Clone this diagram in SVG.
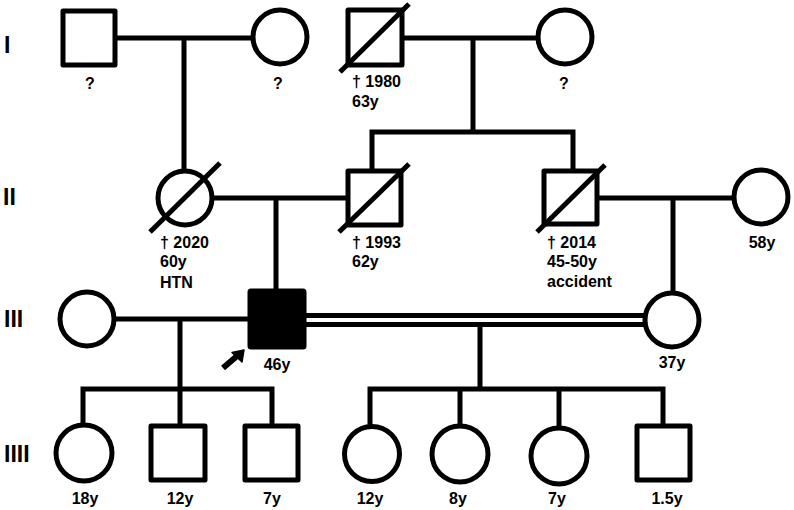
<svg xmlns="http://www.w3.org/2000/svg" width="794" height="510" viewBox="0 0 794 510">
<style>
.s{fill:#fff;stroke:#000;stroke-width:5;stroke-linejoin:round}
.f{fill:#000;stroke:#000;stroke-width:3;stroke-linejoin:round}
.d{stroke:#000;stroke-width:5;fill:none}
.c path,.c line{stroke:#000;stroke-width:5;fill:none}
.dbl{stroke:#000;stroke-width:4}
.t{font-family:"Liberation Sans",Arial,sans-serif;font-weight:bold;font-size:16px;fill:#000}
.m{text-anchor:middle}
.g{font-family:"Liberation Sans",Arial,sans-serif;font-weight:bold;font-size:23px;fill:#000}
</style>
<rect width="794" height="510" fill="#fff"/>
<g id="gen-labels">
<text class="g" x="4" y="53">I</text>
<text class="g" x="3" y="205">II</text>
<text class="g" x="4" y="327">III</text>
<text class="g" x="4" y="462">IIII</text>
</g>
<g class="c" id="connectors">
<line x1="116" y1="38" x2="253" y2="38"/>
<line x1="184" y1="38" x2="184" y2="171"/>
<line x1="402" y1="38" x2="538" y2="38"/>
<line x1="473" y1="38" x2="473" y2="132"/>
<path d="M372,171 V132 H573 V171"/>
<line x1="212" y1="198" x2="348" y2="198"/>
<line x1="276" y1="198" x2="276" y2="291"/>
<line x1="598" y1="198" x2="734" y2="198"/>
<line x1="673" y1="198" x2="673" y2="293"/>
<line x1="114" y1="319" x2="249" y2="319"/>
<line x1="180" y1="319" x2="180" y2="426"/>
<path d="M83,426 V389 H272 V426"/>
<line class="dbl" x1="305" y1="315.5" x2="645" y2="315.5"/>
<line class="dbl" x1="305" y1="324.5" x2="645" y2="324.5"/>
<line x1="480" y1="324" x2="480" y2="389"/>
<path d="M370,427 V389 H663 V426"/>
<line x1="460" y1="389" x2="460" y2="427"/>
<line x1="559" y1="389" x2="559" y2="429"/>
</g>
<g id="I-1"><rect class="s" x="63" y="11" width="52" height="54"/><text class="t m" x="90" y="89">?</text></g>
<g id="I-2"><circle class="s" cx="280" cy="37" r="27"/><text class="t m" x="278" y="89">?</text></g>
<g id="I-3"><rect class="s" x="348" y="10" width="54" height="55"/><line class="d" x1="340" y1="72" x2="409" y2="4"/><text class="t" x="352" y="87">† 1980</text><text class="t" x="352" y="107">63y</text></g>
<g id="I-4"><circle class="s" cx="565" cy="37" r="27"/><text class="t m" x="564" y="89">?</text></g>
<g id="II-1"><circle class="s" cx="185" cy="198" r="27"/><line class="d" x1="150" y1="232" x2="220" y2="163"/><text class="t" x="160" y="248">† 2020</text><text class="t" x="160" y="267">60y</text><text class="t" x="160" y="288">HTN</text></g>
<g id="II-2"><rect class="s" x="348" y="171" width="53" height="54"/><line class="d" x1="339" y1="232" x2="409" y2="164"/><text class="t" x="352" y="248">† 1993</text><text class="t" x="352" y="267">62y</text></g>
<g id="II-3"><rect class="s" x="544" y="171" width="53" height="53"/><line class="d" x1="537" y1="232" x2="605" y2="165"/><text class="t" x="547" y="248">† 2014</text><text class="t" x="547" y="267">45-50y</text><text class="t" x="547" y="287">accident</text></g>
<g id="II-4"><circle class="s" cx="761" cy="197" r="27"/><text class="t m" x="762" y="248">58y</text></g>
<g id="III-1"><circle class="s" cx="87" cy="319" r="27"/></g>
<g id="III-2"><rect class="f" x="249" y="290" width="56" height="58" rx="2"/><text class="t m" x="277" y="370">46y</text></g>
<g id="proband-arrow"><line x1="223" y1="368" x2="237" y2="356" stroke="#000" stroke-width="6"/><polygon points="244,350 242,362 232,352.5" fill="#000" stroke="#000" stroke-width="1.5" stroke-linejoin="round"/></g>
<g id="III-3"><circle class="s" cx="672" cy="320" r="27"/><text class="t m" x="672" y="368">37y</text></g>
<g id="IV-1"><circle class="s" cx="84" cy="453" r="28"/><text class="t m" x="85" y="504">18y</text></g>
<g id="IV-2"><rect class="s" x="151" y="426" width="54" height="54"/><text class="t m" x="180" y="504">12y</text></g>
<g id="IV-3"><rect class="s" x="245" y="426" width="53" height="54"/><text class="t m" x="272" y="504">7y</text></g>
<g id="IV-4"><circle class="s" cx="372" cy="454" r="27.5"/><text class="t m" x="370" y="504">12y</text></g>
<g id="IV-5"><circle class="s" cx="460" cy="454" r="28"/><text class="t m" x="458" y="504">8y</text></g>
<g id="IV-6"><circle class="s" cx="559" cy="456" r="28"/><text class="t m" x="557" y="504">7y</text></g>
<g id="IV-7"><rect class="s" x="637" y="426" width="53" height="54"/><text class="t m" x="667" y="504">1.5y</text></g>
</svg>
